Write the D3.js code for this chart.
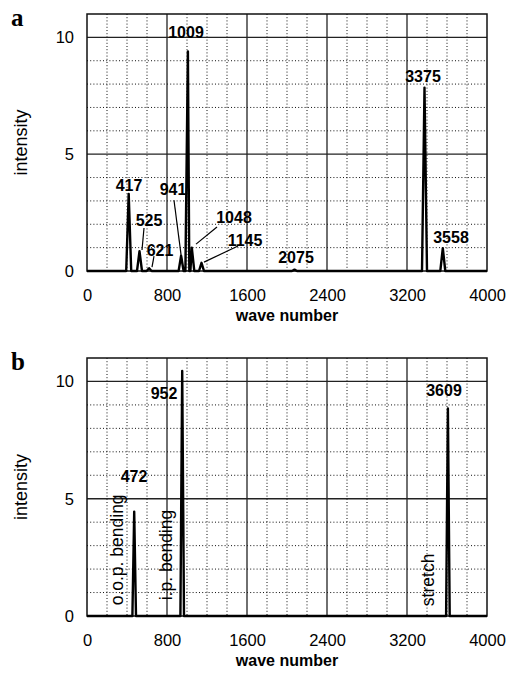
<!DOCTYPE html>
<html lang="en">
<head>
<meta charset="UTF-8">
<title>IR spectra</title>
<script src="https://cdn.jsdelivr.net/npm/d3@7"></script>
<style>
  body { margin: 0; background: #fff; }
  svg { display: block; }
  text { font-family: "Liberation Sans", Arial, sans-serif; fill: #000; }
</style>
</head>
<body>
<div id="chart"></div>
<script>
// panel a: computed spectrum
const peaksA = [417, 525, 621, 941, 1009, 1048, 1145, 2075, 3375, 3558]
const intensA = [3.3, 0.85, 0.12, 0.65, 9.4, 1.0, 0.35, 0.06, 7.85, 0.98]
const labelsA = ["417", "525", "621", "941", "1009", "1048", "1145", "2075", "3375", "3558"]
// panel b: model spectrum
const peaksB = [472, 952, 3609]
const intensB = [4.45, 10.45, 8.85]
const labelsB = ["472", "952", "3609"]
const modeNames = ["o.o.p. bending", "i.p. bending", "stretch"]

const xTicks = [0, 800, 1600, 2400, 3200, 4000]
const yTicks = [0, 5, 10]

// where the annotations sit, in data units (wave number, intensity)
const labelPosA = [[420, 3.68], [620, 2.18], [730, 0.9], [860, 3.5], [990, 10.21],
  [1470, 2.31], [1580, 1.32], [2090, 0.6], [3360, 8.33], [3640, 1.45]]
const leadersA = [null, [[570, 1.84], [550, 0.9]], [[670, 0.64], [650, 0.17]],
  [[870, 3.03], [950, 0.38]], null, [[1300, 1.88], [1090, 1.15]],
  [[1510, 1.07], [1170, 0.38]], null, null, null]
const labelPosB = [[470, 5.94], [770, 9.49], [3570, 9.62]]
const modePos = [[300, 2.82], [790, 2.6], [3410, 1.54]]

const width = 506, height = 673
const svg = d3.select("#chart").append("svg")
  .attr("width", width).attr("height", height)

const x = d3.scaleLinear().domain([0, 4000]).range([87, 487])

function drawPanel(letter, top, bottom, peaks, intens, hw) {
  const y = d3.scaleLinear().domain([0, 11]).range([bottom, top])
  const g = svg.append("g")

  // dotted minor grid
  g.selectAll(".vdot").data(d3.range(200, 4000, 200).filter(v => v % 800 != 0))
    .enter().append("line")
    .attr("x1", d => x(d)).attr("x2", d => x(d))
    .attr("y1", top).attr("y2", bottom)
    .attr("stroke", "#111").attr("stroke-width", 1).attr("stroke-dasharray", "1,2.2")
  g.selectAll(".hdot").data(d3.range(1, 10).filter(v => v % 5 != 0))
    .enter().append("line")
    .attr("x1", x(0)).attr("x2", x(4000))
    .attr("y1", d => y(d)).attr("y2", d => y(d))
    .attr("stroke", "#111").attr("stroke-width", 1).attr("stroke-dasharray", "1,2.2")

  // solid major grid
  g.selectAll(".vmaj").data(xTicks.slice(1, -1))
    .enter().append("line")
    .attr("x1", d => x(d)).attr("x2", d => x(d))
    .attr("y1", top).attr("y2", bottom)
    .attr("stroke", "#222").attr("stroke-width", 1.3)
  g.selectAll(".hmaj").data(yTicks.slice(1))
    .enter().append("line")
    .attr("x1", x(0)).attr("x2", x(4000))
    .attr("y1", d => y(d)).attr("y2", d => y(d))
    .attr("stroke", "#222").attr("stroke-width", 1.3)

  g.append("rect")
    .attr("x", x(0)).attr("y", top)
    .attr("width", x(4000) - x(0)).attr("height", bottom - top)
    .attr("fill", "none").attr("stroke", "#111").attr("stroke-width", 1.5)

  // spectrum as a line of narrow peaks
  const pts = [[0, 0]]
  peaks.forEach((p, i) => {
    pts.push([p - hw, 0], [p, intens[i]], [p + hw, 0])
  })
  pts.push([4000, 0])
  pts.sort((a, b) => a[0] - b[0])
  g.append("path")
    .datum(pts)
    .attr("d", d3.line().x(d => x(d[0])).y(d => y(d[1])))
    .attr("fill", "none").attr("stroke", "#000").attr("stroke-width", 2.4)
    .attr("stroke-linejoin", "round")

  // axes
  const xAxis = g.append("g")
    .attr("transform", `translate(0, ${bottom})`)
    .call(d3.axisBottom(x).tickValues(xTicks).tickSize(0).tickPadding(18).tickFormat(d3.format("d")))
  const yAxis = g.append("g")
    .attr("transform", `translate(${x(0)}, 0)`)
    .call(d3.axisLeft(y).tickValues(yTicks).tickSize(0).tickPadding(13))
  ;[xAxis, yAxis].forEach(a => {
    a.select(".domain").remove()
    a.selectAll("text").style("font-size", "16.5px").attr("font-family", null)
  })

  g.append("text")
    .attr("x", (x(0) + x(4000)) / 2).attr("y", bottom + 50)
    .attr("text-anchor", "middle")
    .style("font-size", "16px").style("font-weight", "bold")
    .text("wave number")

  g.append("text")
    .attr("transform", `translate(27, ${(top + bottom) / 2}) rotate(-90)`)
    .attr("text-anchor", "middle")
    .style("font-size", "18px")
    .text("intensity")

  g.append("text")
    .attr("x", 11).attr("y", top + 12)
    .style("font-family", "'Liberation Serif', 'Times New Roman', serif")
    .style("font-size", "25px").style("font-weight", "bold")
    .text(letter)

  return { g, y }
}

const pa = drawPanel("a", 14, 271, peaksA, intensA, 25)
pa.g.selectAll(".plab").data(labelsA).enter().append("text")
  .attr("x", (d, i) => x(labelPosA[i][0]))
  .attr("y", (d, i) => pa.y(labelPosA[i][1]))
  .attr("dy", "0.36em")
  .attr("text-anchor", "middle")
  .style("font-size", "16px").style("font-weight", "bold")
  .text(d => d)
pa.g.selectAll(".lead").data(leadersA.filter(d => d)).enter().append("line")
  .attr("x1", d => x(d[0][0])).attr("y1", d => pa.y(d[0][1]))
  .attr("x2", d => x(d[1][0])).attr("y2", d => pa.y(d[1][1]))
  .attr("stroke", "#000").attr("stroke-width", 1.2)

const pb = drawPanel("b", 358, 616, peaksB, intensB, 18)
pb.g.selectAll(".plab").data(labelsB).enter().append("text")
  .attr("x", (d, i) => x(labelPosB[i][0]))
  .attr("y", (d, i) => pb.y(labelPosB[i][1]))
  .attr("dy", "0.36em")
  .attr("text-anchor", "middle")
  .style("font-size", "16px").style("font-weight", "bold")
  .text(d => d)
pb.g.selectAll(".mode").data(modeNames).enter().append("text")
  .attr("transform", (d, i) => `translate(${x(modePos[i][0])}, ${pb.y(modePos[i][1])}) rotate(-90)`)
  .attr("dy", "0.36em")
  .attr("text-anchor", "middle")
  .style("font-size", "17.5px")
  .text(d => d)
</script>
</body>
</html>
